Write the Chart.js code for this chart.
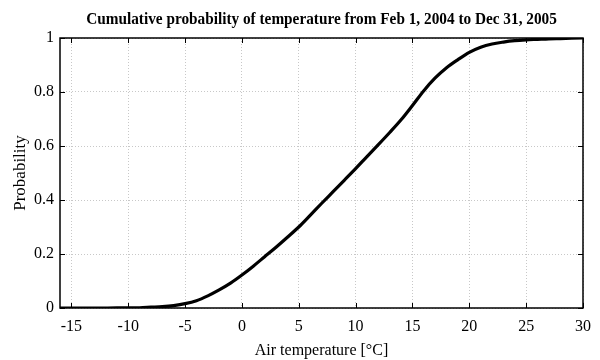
<!DOCTYPE html>
<html>
<head>
<meta charset="utf-8">
<script src="https://cdn.jsdelivr.net/npm/chart.js@4/dist/chart.umd.min.js"></script>
<style>
html,body{margin:0;padding:0;background:#fff;}
#wrap{width:600px;height:360px;position:relative;}
</style>
</head>
<body>
<div id="wrap"><canvas id="c" width="600" height="360"></canvas></div>
<script>
const titleText = "Cumulative probability of temperature from Feb 1, 2004 to Dec 31, 2005";
const xTitle = "Air temperature [°C]";
const yTitle = "Probability";
const temps = [-16,-14,-12,-10,-9,-8,-7,-6,-5,-4,-3,-2,-1,0,1,2,3,4,5,6,7,8,9,10,11,12,13,14,15,16,17,18,19,20,21,22,23,24,25,26,27,28,29,30];
const probs = [0,0,0,0.001,0.001,0.003,0.005,0.009,0.016,0.027,0.045,0.067,0.092,0.122,0.155,0.19,0.225,0.262,0.30,0.343,0.387,0.43,0.473,0.516,0.561,0.605,0.65,0.697,0.75,0.805,0.852,0.89,0.92,0.947,0.966,0.978,0.985,0.99,0.993,0.995,0.997,0.998,0.999,1];
const xTicks = [-15,-10,-5,0,5,10,15,20,25,30];
const yTicks = [0,0.2,0.4,0.6,0.8,1];

const FONT = "'Liberation Serif', 'Times New Roman', serif";

const frame = {
  id: 'frame',
  afterDatasetsDraw(chart) {
    const {ctx, chartArea: a, scales: {x, y}} = chart;
    ctx.save();
    ctx.strokeStyle = '#000';
    ctx.lineWidth = 1;
    ctx.beginPath();
    const L = 5;
    xTicks.forEach(v => {
      const px = Math.round(x.getPixelForValue(v)) + 0.5;
      ctx.moveTo(px, a.bottom); ctx.lineTo(px, a.bottom - L);
      ctx.moveTo(px, a.top); ctx.lineTo(px, a.top + L);
    });
    yTicks.forEach(v => {
      const py = Math.round(y.getPixelForValue(v)) + 0.5;
      ctx.moveTo(a.left, py); ctx.lineTo(a.left + L, py);
      ctx.moveTo(a.right, py); ctx.lineTo(a.right - L, py);
    });
    ctx.stroke();
    ctx.lineWidth = 1.5;
    ctx.strokeRect(a.left, a.top, a.right - a.left, a.bottom - a.top);
    ctx.restore();
  },
  afterDraw(chart) {
    const {ctx, chartArea: a} = chart;
    ctx.save();
    ctx.fillStyle = '#000';
    ctx.font = "bold 16px " + FONT;
    ctx.textAlign = 'center';
    ctx.textBaseline = 'alphabetic';
    const cx = (a.left + a.right) / 2;
    ctx.translate(cx, 24);
    ctx.scale(0.955, 1);
    ctx.fillText(titleText, 0, 0);
    ctx.restore();
  }
};

new Chart(document.getElementById('c'), {
  type: 'line',
  data: {
    datasets: [{
      data: temps.map((t, i) => ({x: t, y: probs[i]})),
      borderColor: '#000',
      borderWidth: 3.2,
      pointRadius: 0,
      cubicInterpolationMode: 'monotone',
      fill: false
    }]
  },
  options: {
    responsive: false,
    animation: false,
    layout: {padding: {left: 0, right: 17, top: 38, bottom: 0}},
    plugins: {
      legend: {display: false},
      tooltip: {enabled: false},
      title: {display: false}
    },
    scales: {
      x: {
        type: 'linear',
        min: -16, max: 30,
        afterBuildTicks: s => { s.ticks = xTicks.map(v => ({value: v})); },
        afterFit: s => { s.height = 52; },
        grid: {color: '#c8c8c8', lineWidth: 1, drawTicks: false},
        border: {display: false, dash: [1, 2]},
        ticks: {color: '#000', font: {family: FONT, size: 16}, padding: 9, maxRotation: 0, callback: v => String(v)},
        title: {display: true, text: xTitle, color: '#000', font: {family: FONT, size: 16}, padding: {top: 0, bottom: 0}}
      },
      y: {
        type: 'linear',
        min: 0, max: 1,
        afterBuildTicks: s => { s.ticks = yTicks.map(v => ({value: v})); },
        afterFit: s => { s.width = 60; },
        grid: {color: '#c8c8c8', lineWidth: 1, drawTicks: false},
        border: {display: false, dash: [1, 2]},
        ticks: {color: '#000', font: {family: FONT, size: 16}, padding: 6, callback: v => String(v)},
        title: {display: true, text: yTitle, color: '#000', font: {family: FONT, size: 17}, padding: {top: 10, bottom: 2}}
      }
    }
  },
  plugins: [frame]
});
</script>
</body>
</html>
